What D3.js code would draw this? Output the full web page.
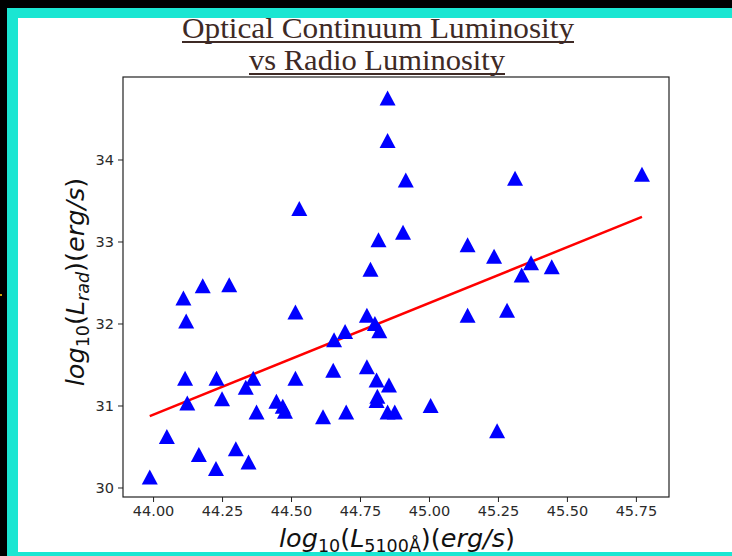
<!DOCTYPE html>
<html><head><meta charset="utf-8">
<script src="https://cdn.jsdelivr.net/npm/d3@7"></script>
<style>
html,body{margin:0;padding:0;background:#000;}
svg{display:block;}
</style></head>
<body>
<svg id="c" width="732" height="556"></svg>
<script>
// Data: log10(L5100) vs log10(Lrad)
const xVals = [43.988,44.05,44.11,44.12,44.18,44.276,44.116,44.124,44.23,44.25,44.166,44.228,44.30,44.346,44.336,44.363,44.375,44.447,44.47,44.478,44.516,44.516,44.616,44.656,44.696,44.653,44.70,44.788,44.775,44.804,44.82,44.775,44.81,44.855,44.813,44.81,44.85,44.876,44.85,44.85,44.916,44.53,44.817,44.906,45.312,45.772,45.14,45.236,45.37,45.445,45.336,45.14,45.283,45.006,45.247];
const yVals = [30.128,30.62,32.31,32.03,32.46,32.47,31.33,31.03,31.33,31.08,30.40,30.23,30.47,30.31,31.22,31.33,30.92,31.05,30.99,30.93,32.14,31.33,30.86,31.80,31.90,31.43,30.92,32.66,32.10,32.00,31.91,31.47,31.31,31.25,31.11,31.06,30.92,30.92,34.75,34.23,33.75,33.40,33.02,33.11,33.77,33.82,32.96,32.82,32.74,32.69,32.59,32.10,32.16,31.00,30.69];
const fitX = [43.988, 45.772];
const fitY = [30.87, 33.30];
const xTicks = [44.00,44.25,44.50,44.75,45.00,45.25,45.50,45.75];
const yTicks = [30,31,32,33,34];
const titleLines = ["Optical Continuum Luminosity","vs Radio Luminosity"];

const svg = d3.select("#c");
svg.append("rect").attr("x",0).attr("y",0).attr("width",732).attr("height",556).attr("fill","#000");
svg.append("rect").attr("x",7).attr("y",8).attr("width",725).attr("height",548).attr("fill","#1ae6d2");
svg.append("rect").attr("x",18).attr("y",18).attr("width",714).attr("height",534).attr("fill","#fff");

const L=123, R=669, T=77, B=497;
const x = d3.scaleLinear().domain([43.891,45.870]).range([L,R]);
const y = d3.scaleLinear().domain([29.884,35.006]).range([B,T]);

// title
const tg = svg.append("g").attr("fill","#3e2a25").attr("font-family","'Liberation Serif','DejaVu Serif',serif");
const tl = [{t:titleLines[0],y:38,w:392,cx:378},{t:titleLines[1],y:70,w:256,cx:377}];
tl.forEach(d=>{
  tg.append("text").attr("x",d.cx).attr("y",d.y).attr("text-anchor","middle")
    .attr("font-size",30).attr("textLength",d.w).attr("lengthAdjust","spacingAndGlyphs").text(d.t);
  tg.append("rect").attr("x",d.cx-d.w/2).attr("y",d.y+3).attr("width",d.w).attr("height",2);
});

// axes
const xAxis = d3.axisBottom(x).tickValues(xTicks).tickFormat(d3.format(".2f")).tickSize(5).tickPadding(4);
const yAxis = d3.axisLeft(y).tickValues(yTicks).tickFormat(d3.format("d")).tickSize(5).tickPadding(4);
const gx = svg.append("g").attr("transform",`translate(0,${B})`).call(xAxis);
const gy = svg.append("g").attr("transform",`translate(${L},0)`).call(yAxis);
[gx,gy].forEach(g=>{
  g.select(".domain").remove();
  g.selectAll("text").attr("font-family","'DejaVu Sans',sans-serif").attr("font-size",14.5).attr("fill","#2a2a2a");
  g.selectAll("line").attr("stroke","#222").attr("stroke-width",1);
});

// line fit
svg.append("line").attr("x1",x(fitX[0])).attr("y1",y(fitY[0])).attr("x2",x(fitX[1])).attr("y2",y(fitY[1]))
  .attr("stroke","#ff0000").attr("stroke-width",2.5);

// triangles
const pts = xVals.map((v,i)=>[v,yVals[i]]);
svg.append("g").selectAll("path").data(pts).join("path")
  .attr("transform",d=>`translate(${x(d[0])},${y(d[1])})`)
  .attr("d","M0,-7.6L8,7.4L-8,7.4Z").attr("fill","#0000ff");

// frame
svg.append("rect").attr("x",L).attr("y",T).attr("width",R-L).attr("height",B-T)
  .attr("fill","none").attr("stroke","#222").attr("stroke-width",1.2);

// x label
const xl = svg.append("text").attr("x",397).attr("y",547).attr("text-anchor","middle")
  .attr("font-family","'DejaVu Sans',sans-serif").attr("font-size",25.5).attr("fill","#111");
xl.append("tspan").attr("font-style","italic").text("log");
xl.append("tspan").attr("font-size",17.5).attr("dy",4.5).text("10");
xl.append("tspan").attr("dy",-4.5).text("(");
xl.append("tspan").attr("font-style","italic").text("L");
xl.append("tspan").attr("font-size",17.5).attr("dy",4.5).text("5100Å");
xl.append("tspan").attr("dy",-4.5).text(")(");
xl.append("tspan").attr("font-style","italic").text("erg/s");
xl.append("tspan").text(")");

// y label
const yl = svg.append("text").attr("transform","translate(84,282) rotate(-90)").attr("text-anchor","middle")
  .attr("font-family","'DejaVu Sans',sans-serif").attr("font-size",25.5).attr("fill","#111");
yl.append("tspan").attr("font-style","italic").text("log");
yl.append("tspan").attr("font-size",17.5).attr("dy",4.5).text("10");
yl.append("tspan").attr("dy",-4.5).text("(");
yl.append("tspan").attr("font-style","italic").text("L");
yl.append("tspan").attr("font-size",17.5).attr("font-style","italic").attr("dy",4.5).text("rad");
yl.append("tspan").attr("dy",-4.5).text(")(");
yl.append("tspan").attr("font-style","italic").text("erg/s");
yl.append("tspan").text(")");

svg.append("rect").attr("x",0).attr("y",294).attr("width",2).attr("height",2).attr("fill","#c8a000");
</script>
</body></html>
